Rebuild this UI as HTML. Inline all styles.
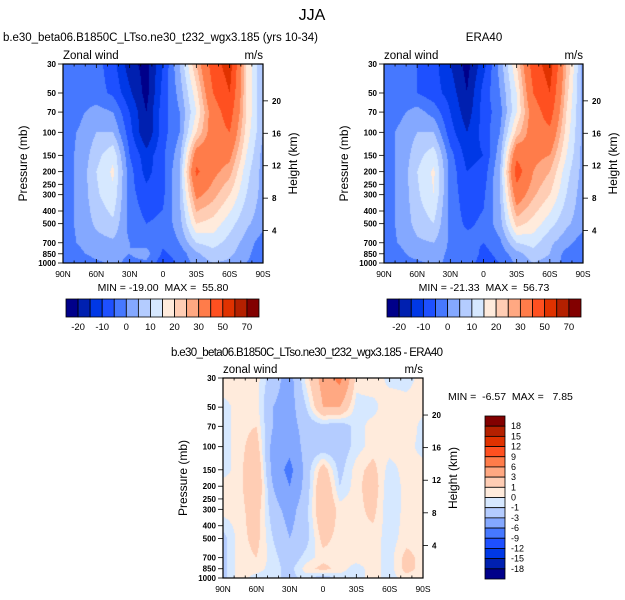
<!DOCTYPE html>
<html><head><meta charset="utf-8">
<style>
body{margin:0;background:#fff;}
#wrap{position:relative;width:625px;height:600px;overflow:hidden;font-family:"Liberation Sans",sans-serif;}
canvas{position:absolute;}
svg{position:absolute;left:0;top:0;}
svg text{white-space:pre;}
</style></head>
<body>
<div id="wrap">
<canvas id="c1"></canvas>
<canvas id="c2"></canvas>
<canvas id="c3"></canvas>
<svg id="s" width="625" height="600"></svg>
</div>
<script>
const lats = [90,75,60,45,30,15,0,-15,-30,-45,-60,-75,-90];
const levels = [30,50,70,100,150,200,300,500,700,850,1000];
const modelU = [
[-2,-2,-3,-8,-18,-22,-10,5,25,45,55,20,5],
[-2,-3,-3,-6,-14,-22,-8,2,18,40,50,20,5],
[-2,-1,2,0,-10,-20,-7,0,15,35,45,20,5],
[-2,0.5,5,5,-8,-20,-7,0,20,35,40,18,5],
[-2,1,8,14,-5,-13,-6,3,35,35,32,15,3],
[-2,1,10,16,-3,-12,-6,5,42,32,27,12,3],
[-2,1,9,14,-3,-8,-6,5,32,27,20,10,3],
[-2,1,6,9,-2,-5,-4,3,20,18,12,6,2],
[-2,0.5,3,4,0,-2,-4,0,10,12,8,3,-3],
[-2,-1,2,1,0,2,-6,-3,4,8,6,2,-5],
[-3,-5,-1,1,-1,-1,-8,-4,2,5,4,0,-5]];
const eraU = [
[-3,-3,-5,-8,-15,-22,-12,2,20,45,55,25,3],
[-2,-3,-5,-8,-12,-20,-8,0,15,40,50,22,3],
[-2,-1,2,-2,-10,-18,-8,-2,15,35,45,20,3],
[-2,1,5,5,-8,-15,-8,0,22,35,38,18,3],
[-2,1,8,13,-3,-12,-10,3,38,32,30,15,3],
[-2,1,10,16,-2,-10,-8,5,45,30,25,12,3],
[-2,1,9,15,-2,-8,-6,5,35,26,20,10,2],
[-2,1,7,10,-2,-6,-4,3,22,18,12,6,2],
[-2,0.5,4,5,-1,-3,-5,-1,10,12,6,2,-3],
[-2,-1,2,2,-1,0,-7,-3,3,8,5,-2,-4],
[-2,-2,-1,1,-1,-2,-8,-5,1,5,3,-2,-3]];
const diffU = [
[1,0.5,0.5,-2,-4,0.5,4,7,0.5,1,-0.5,-0.5,0.5],
[-0.5,0.5,0.5,-3,-4,-1,3,3,-0.5,-0.5,1,0.5,0.5],
[-0.5,0.5,1,-3,-4,-2,-1.5,-2,-0.5,0.5,0.5,1,-0.5],
[-0.5,0.5,2,-4,-5,-2,-2,-2,-0.5,0.5,0.5,0.5,-0.5],
[-0.5,0.5,3,-4,-7,-2,2,-1.5,0.5,1.5,-0.5,0.5,0.5],
[0.5,0.5,3,-3,-6,-2,3,-1,0.5,2,-1,0.5,0.5],
[0.5,0.5,2,-2,-4,-1.5,3,0.5,0.5,1.5,-1,0.5,0.5],
[-1.5,0.5,1.5,-1,-3,-1.5,1.5,0.5,0.5,0.5,-0.5,0.5,0.5],
[-1.5,0.5,1,-0.5,-2,-0.5,0.5,0.5,0.5,0.5,-0.5,1.5,0.5],
[-1.5,0.5,0.5,-0.5,-1.5,0.5,1.5,0.5,-0.5,0.5,-0.5,1.5,0.5],
[-1.5,0.5,-0.5,-0.5,-1.5,-0.5,-2,-0.5,-0.5,0.5,-0.5,0.5,0.5]];
const uLevels = [-20,-15,-10,-5,0,5,10,15,20,25,30,40,50,60,70];
const uLabels = ["-20","-10","0","10","20","30","50","70"];
const dLevels = [-18,-15,-12,-9,-6,-3,-1,0,1,3,6,9,12,15,18];
const pTicks = [30,50,70,100,150,200,250,300,400,500,700,850,1000];
const zTicks = [4,8,12,16,20];
const latTicks = ["90N","60N","30N","0","30S","60S","90S"];
const palette = ["#00008a","#0020b0","#0038e6","#1e50ff","#4678ff","#84a8ff","#b4ccff","#d6e8ff","#ffebdc","#ffcdb4","#ffa882","#ff7c4a","#ff5020","#e03200","#b42000","#820000"];

const S = document.getElementById('s');
const NS = "http://www.w3.org/2000/svg";
function mk(tag, attrs, parent){const e=document.createElementNS(NS,tag);for(const k in attrs)e.setAttribute(k,attrs[k]);(parent||S).appendChild(e);return e;}
function txt(x,y,str,size,anchor,name,extra){const t=mk('text',Object.assign({x:x,y:y,'font-size':size,'text-anchor':anchor||'start','font-family':'"Liberation Sans",sans-serif',fill:'#000'},extra||{}));t.textContent=str;return t;}
function hex(c){return [parseInt(c.substr(1,2),16),parseInt(c.substr(3,2),16),parseInt(c.substr(5,2),16)];}
const rgb = palette.map(hex);
function bin(v,lv){let i=0;while(i<lv.length&&v>=lv[i])i++;return i;}
const L0=Math.log(30),L1=Math.log(1000);
function yOfP(p,y0,h){return y0+h*(Math.log(p)-L0)/(L1-L0);}
function xOfLat(lat,x0,w){return x0+w*(90-lat)/180;}
const logLv = levels.map(p=>Math.log(p));
function sample(data,lat,p){
  const fi=(90-lat)/15; let i=Math.min(Math.floor(fi),lats.length-2); const ti=fi-i;
  const lp=Math.log(p); let j=0; while(j<levels.length-2&&lp>logLv[j+1])j++;
  let tj=(lp-logLv[j])/(logLv[j+1]-logLv[j]); tj=Math.max(0,Math.min(1,tj));
  const a=data[j][i]*(1-ti)+data[j][i+1]*ti, b=data[j+1][i]*(1-ti)+data[j+1][i+1]*ti;
  return a*(1-tj)+b*tj;
}
function fill(id,x0,y0,w,h,data,lv){
  const c=document.getElementById(id); c.width=w;c.height=h;c.style.left=x0+'px';c.style.top=y0+'px';
  const ctx=c.getContext('2d'); const im=ctx.createImageData(w,h);
  for(let py=0;py<h;py++){const p=Math.exp(L0+(L1-L0)*(py+0.5)/h);
    for(let px=0;px<w;px++){const lat=90-180*(px+0.5)/w;const k=bin(sample(data,lat,p),lv);const col=rgb[k];const o=(py*w+px)*4;im.data[o]=col[0];im.data[o+1]=col[1];im.data[o+2]=col[2];im.data[o+3]=255;}}
  ctx.putImageData(im,0,0);
}
function axes(pre,x0,y0,w,h,label){
  const g=mk('g',{});  
  mk('rect',{x:x0,y:y0,width:w,height:h,fill:'none',stroke:'#000','stroke-width':1.2},g);
  for(let lat=90;lat>=-90;lat-=10){const x=xOfLat(lat,x0,w);const major=lat%30===0;const L=major?4:2.5;
    mk('line',{x1:x,y1:y0,x2:x,y2:y0+L,stroke:'#000','stroke-width':0.8},g);
    mk('line',{x1:x,y1:y0+h,x2:x,y2:y0+h-L,stroke:'#000','stroke-width':0.8},g);}
  latTicks.forEach((s,i)=>txt(x0+w*i/6,y0+h+14,s,8.5,'middle',pre+'-x-tick-label'));
  pTicks.forEach(p=>{const y=yOfP(p,y0,h);mk('line',{x1:x0-5,y1:y,x2:x0,y2:y,stroke:'#000','stroke-width':0.8},g);
    txt(x0-7,y+3,String(p),8,'end',pre+'-y-tick-label',{'font-weight':'bold'});});
  zTicks.forEach(z=>{const y=yOfP(1000*Math.exp(-z/7),y0,h);mk('line',{x1:x0+w,y1:y,x2:x0+w+5,y2:y,stroke:'#000','stroke-width':0.8},g);
    txt(x0+w+9,y+3,String(z),8,'start',pre+'-height-tick-label',{'font-weight':'bold'});});
  txt(x0,y0-5,label,11.5,'start',pre+'-variable-label');
  txt(x0+w,y0-5,'m/s',11.5,'end',pre+'-units-label');
  const cy=y0+h/2;
  txt(x0-36,cy,'Pressure (mb)',12,'middle',pre+'-y-axis-title',{transform:`rotate(-90 ${x0-36} ${cy})`});
  txt(x0+w+34,cy,'Height (km)',12,'middle',pre+'-height-axis-title',{transform:`rotate(-90 ${x0+w+34} ${cy})`});
}
function hbar(pre,x0,y0,w,h){
  const bw=w/16;
  for(let i=0;i<16;i++){const r=mk('rect',{x:x0+i*bw,y:y0,width:bw,height:h,fill:palette[i],stroke:'#000','stroke-width':0.8});
    }
  uLabels.forEach((s,k)=>txt(x0+(2*k+1)*bw,y0+h+13,s,9.5,'middle',pre+'-colorbar-label'));
}
fill('c1',63,64,200,199,modelU,uLevels);
fill('c2',384,64,199,199,eraU,uLevels);
fill('c3',223,378,200,200,diffU,dLevels);
axes('model',63,64,200,199,'Zonal wind');
axes('era40',384,64,199,199,'zonal wind');
axes('diff',223,378,200,200,'zonal wind');
txt(312,20,'JJA',16,'middle','figure-title');
txt(3,41,'b.e30_beta06.B1850C_LTso.ne30_t232_wgx3.185 (yrs 10-34)',11.5,'start','model-title',{textLength:315});
txt(484,41,'ERA40',11.5,'middle','era40-title');
txt(171,356,'b.e30_beta06.B1850C_LTso.ne30_t232_wgx3.185 - ERA40',11.5,'start','diff-title',{textLength:272});
txt(163,291,'MIN = -19.00  MAX =  55.80',10.5,'middle','model-min-max');
txt(484,291,'MIN = -21.33  MAX =  56.73',10.5,'middle','era40-min-max');
txt(448,400,'MIN =  -6.57  MAX =   7.85',10.5,'start','diff-min-max');
hbar('model',66,299,193,18);
hbar('era40',387,299,194,18);
const vb=163/16;
for(let i=0;i<16;i++){const r=mk('rect',{x:485,y:416+i*vb,width:20,height:vb,fill:palette[15-i],stroke:'#000','stroke-width':0.8});
  }
for(let i=0;i<15;i++){txt(511,416+(i+1)*vb+3,String(dLevels[14-i]),9,'start','diff-colorbar-label');}
</script>
</body></html>
